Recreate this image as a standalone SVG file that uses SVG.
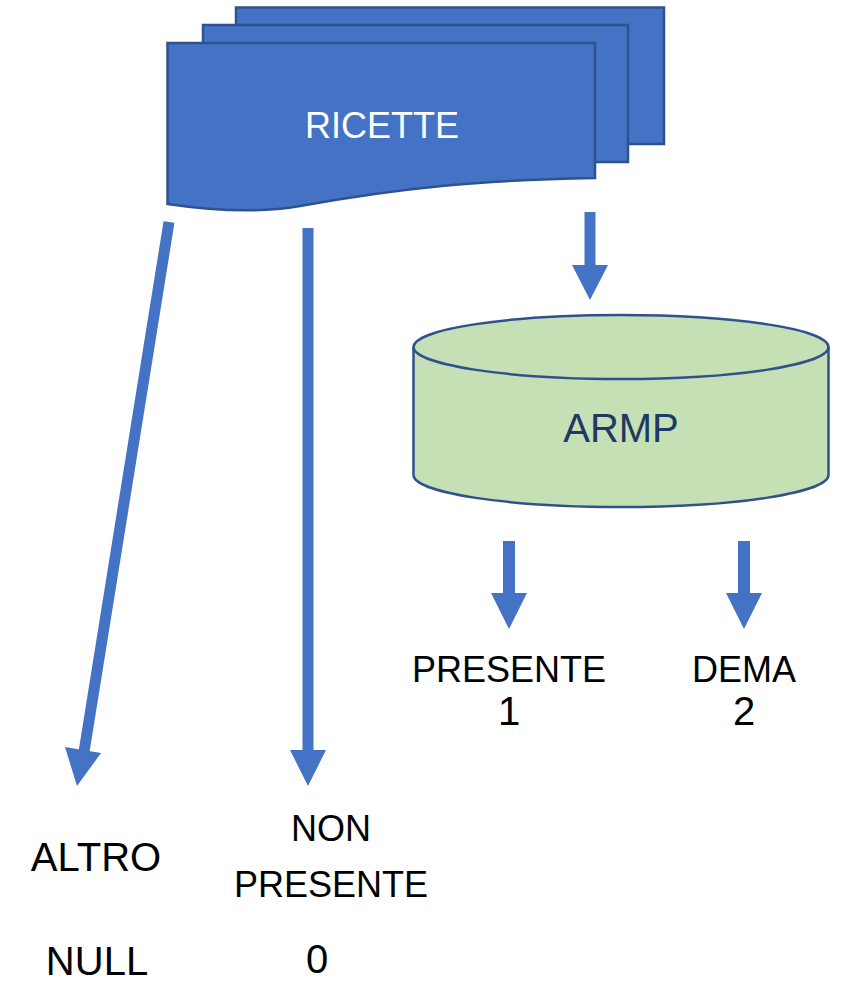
<svg xmlns="http://www.w3.org/2000/svg" width="843" height="982" viewBox="0 0 843 982">
<style>
.doc{fill:#4472C4;stroke:#2F528F;stroke-width:2.5}
.shaft{stroke:#4472C4;fill:none}
.head{fill:#4472C4}
.lbl{font-family:"Liberation Sans",Arial,sans-serif;fill:#000;text-anchor:middle}
</style>
<rect width="843" height="982" fill="#fff"/>
<g id="ricette">
<rect class="doc" x="236" y="7.5" width="428" height="136.5"/>
<rect class="doc" x="203" y="25" width="425" height="137"/>
<path class="doc" d="M167.5,43 H595 V178 C480,180 400,188 300,206 C260,213 215,211 167.5,204 Z"/>
<text x="382" y="138" font-family="Liberation Sans,Arial,sans-serif" font-size="36" fill="#fff" text-anchor="middle">RICETTE</text>
</g>
<g id="armp">
<path d="M413.5,347 V475 A207.5,32 0 0 0 828.5,475 V347" fill="#C5E0B4" stroke="#2F528F" stroke-width="2.5"/>
<ellipse cx="621" cy="347" rx="207.5" ry="32" fill="#C5E0B4" stroke="#2F528F" stroke-width="2.5"/>
<text x="621" y="442" font-family="Liberation Sans,Arial,sans-serif" font-size="40" fill="#203864" text-anchor="middle">ARMP</text>
</g>
<g id="connectors">
<line class="shaft" x1="590" y1="212" x2="590" y2="268" stroke-width="11"/>
<polygon class="head" points="572,265 608,265 590,300"/>
<line class="shaft" x1="509" y1="541" x2="509" y2="596" stroke-width="12"/>
<polygon class="head" points="491,593 527,593 509,629"/>
<line class="shaft" x1="744" y1="541" x2="744" y2="596" stroke-width="12"/>
<polygon class="head" points="726,593 762,593 744,629"/>
<line class="shaft" x1="169" y1="222" x2="84" y2="752" stroke-width="11"/>
<polygon class="head" points="65,747 101,753 77,786"/>
<line class="shaft" x1="308" y1="228" x2="308" y2="753" stroke-width="11"/>
<polygon class="head" points="290,750 326,750 308,786"/>
</g>
<g id="labels">
<text class="lbl" x="509" y="682" font-size="36">PRESENTE</text>
<text class="lbl" x="509" y="725" font-size="40">1</text>
<text class="lbl" x="744" y="682" font-size="36">DEMA</text>
<text class="lbl" x="744" y="725" font-size="40">2</text>
<text class="lbl" x="96" y="871" font-size="40">ALTRO</text>
<text class="lbl" x="331" y="841" font-size="36">NON</text>
<text class="lbl" x="331" y="897" font-size="36">PRESENTE</text>
<text class="lbl" x="97" y="975" font-size="40">NULL</text>
<text class="lbl" x="317" y="973" font-size="40">0</text>
</g>
</svg>
